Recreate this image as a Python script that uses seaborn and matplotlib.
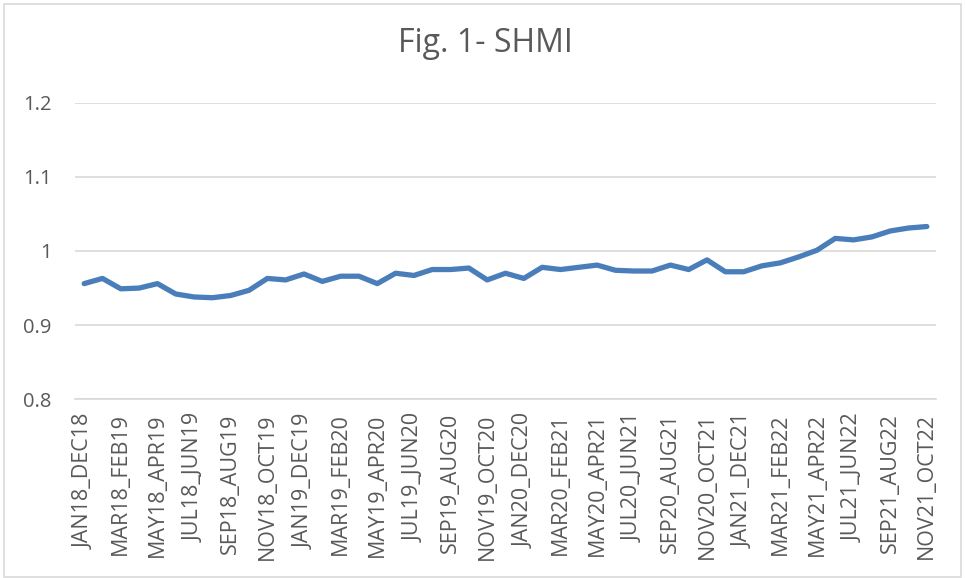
import matplotlib
matplotlib.use("Agg")
import matplotlib.pyplot as plt
import seaborn as sns
import pandas as pd
from matplotlib.patches import Rectangle

months = ["JAN", "FEB", "MAR", "APR", "MAY", "JUN", "JUL", "AUG", "SEP", "OCT", "NOV", "DEC"]
periods = []
for i in range(47):
    sm = i % 12
    sy = 18 + i // 12
    e = i + 11
    em = e % 12
    ey = 18 + e // 12
    periods.append(f"{months[sm]}{sy}_{months[em]}{ey}")

shmi = [0.956, 0.963, 0.949, 0.950, 0.956, 0.942, 0.938, 0.937, 0.940, 0.947,
        0.963, 0.961, 0.969, 0.959, 0.966, 0.966, 0.956, 0.970, 0.967, 0.975,
        0.975, 0.977, 0.961, 0.970, 0.963, 0.978, 0.975, 0.978, 0.981, 0.974,
        0.973, 0.973, 0.981, 0.975, 0.988, 0.972, 0.972, 0.980, 0.984, 0.992,
        1.001, 1.017, 1.015, 1.019, 1.027, 1.031, 1.033]

df = pd.DataFrame({"period": periods, "SHMI": shmi, "idx": range(len(periods))})

sns.set_theme(style="white")
plt.rcParams["font.family"] = ["Open Sans", "DejaVu Sans"]

W, H = 965, 578
fig = plt.figure(figsize=(W / 100, H / 100), dpi=100)
ax = fig.add_axes([75 / W, 1 - 399.3 / H, (936 - 75) / W, (399.3 - 102.7) / H])

sns.lineplot(data=df, x="idx", y="SHMI", ax=ax, color="#4a7ebb", linewidth=3.8,
             solid_capstyle="round", solid_joinstyle="round")

ax.set_xlim(-0.5, len(periods) - 0.5)
ax.set_ylim(0.8, 1.2)
ax.set_yticks([0.8, 0.9, 1.0, 1.1, 1.2])
ax.set_yticklabels(["0.8", "0.9", "1", "1.1", "1.2"], fontsize=14.5, color="#595959")
ax.set_xticks(range(0, len(periods), 2))
ax.set_xticklabels(periods[::2], rotation=90, fontsize=15.5, color="#595959")
ax.tick_params(axis="both", length=0)
ax.tick_params(axis="y", pad=17)
ax.tick_params(axis="x", pad=10)
ax.grid(axis="y", color="#d9d9d9", linewidth=1.2)
ax.set_axisbelow(True)
for s in ["top", "right", "left"]:
    ax.spines[s].set_visible(False)
ax.spines["bottom"].set_color("#d9d9d9")
ax.spines["bottom"].set_linewidth(1.2)
ax.set_xlabel("")
ax.set_ylabel("")

fig.text(485 / W, 1 - 44 / H, "Fig. 1- SHMI", ha="center", va="center",
         fontsize=23, color="#595959")

fig.patches.append(Rectangle((4 / W, 1 / H), (961 - 4) / W, (574 - 1) / H,
                             transform=fig.transFigure, fill=False,
                             edgecolor="#d9d9d9", linewidth=1.2))

fig.savefig("out.png", dpi=100)
